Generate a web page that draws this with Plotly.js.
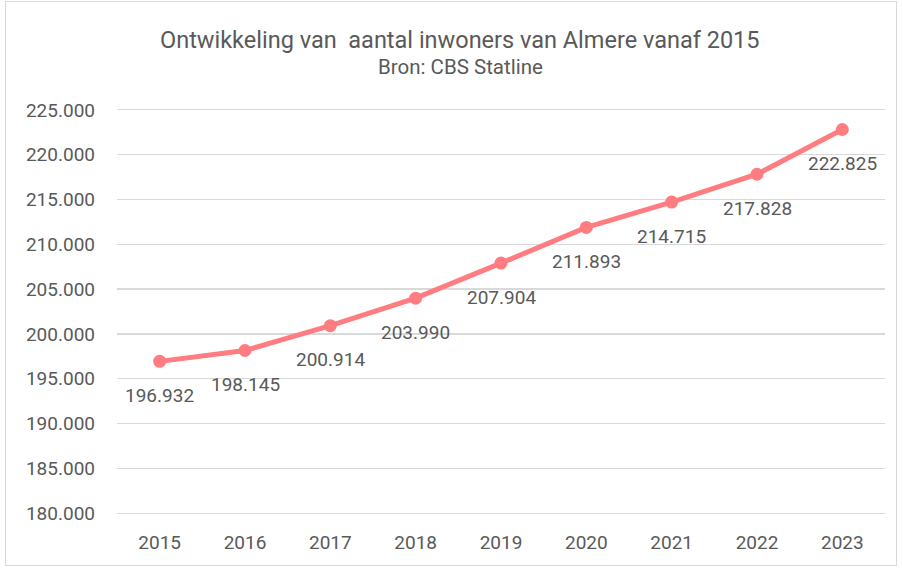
<!DOCTYPE html>
<html><head><meta charset="utf-8">
<script src="https://cdn.plot.ly/plotly-3.0.1.min.js"></script>
<style>
html,body{margin:0;padding:0;background:#fff;}
#frame{position:absolute;left:5px;top:1px;width:892px;height:565px;border:1px solid #d9d9d9;box-sizing:border-box;pointer-events:none;z-index:5;}
#chart{position:absolute;left:0;top:0;width:903px;height:569px;}
</style></head>
<body>
<div id="chart"></div><div id="frame"></div>
<script>
const years = ['2015','2016','2017','2018','2019','2020','2021','2022','2023'];
const inwoners = [196932, 198145, 200914, 203990, 207904, 211893, 214715, 217828, 222825];
const titleText = 'Ontwikkeling van  aantal inwoners van Almere vanaf 2015';
const subtitleText = 'Bron: CBS Statline';

const fmt = v => v.toLocaleString('de-DE');
const font = 'Roboto, "Noto Sans", sans-serif';
const grey = '#595959';

const annotations = years.map((y, i) => ({
  x: i, y: inwoners[i], xref: 'x', yref: 'y',
  text: fmt(inwoners[i]), showarrow: false, yshift: -34, yanchor: 'middle', xanchor: 'center',
  font: {family: font, size: 19, color: grey}
}));
annotations.push({
  xref: 'paper', yref: 'paper', x: 0.447, y: 1.0, yshift: 70, yanchor: 'middle', showarrow: false,
  text: titleText, font: {family: font, size: 23.5, color: grey}
});
annotations.push({
  xref: 'paper', yref: 'paper', x: 0.447, y: 1.0, yshift: 43, yanchor: 'middle', showarrow: false,
  text: subtitleText, font: {family: font, size: 20.5, color: grey}
});

Plotly.newPlot('chart', [{
  x: years, y: inwoners, type: 'scatter', mode: 'lines+markers',
  line: {color: '#ff7c80', width: 5},
  marker: {color: '#ff7c80', size: 13},
  hoverinfo: 'skip'
}], {
  width: 903, height: 569,
  margin: {l: 117, r: 18, t: 110, b: 56},
  separators: ',.',
  paper_bgcolor: '#fff', plot_bgcolor: '#fff',
  showlegend: false,
  font: {family: font, color: grey},
  xaxis: {type: 'category', range: [-0.5, 8.5], showgrid: false, zeroline: false,
    showline: true, mirror: true, linecolor: '#d9d9d9', linewidth: 1.3,
    ticks: '', tickfont: {family: font, size: 19, color: grey}, ticklabelstandoff: 12},
  yaxis: {range: [180000, 225000], dtick: 5000, tickformat: ',.0f',
    showgrid: true, gridcolor: '#d9d9d9', gridwidth: 1.3, zeroline: false, showline: false,
    ticks: '', tickfont: {family: font, size: 19, color: grey}, ticklabelstandoff: 21},
  annotations: annotations
}, {staticPlot: true});
</script>
</body></html>
